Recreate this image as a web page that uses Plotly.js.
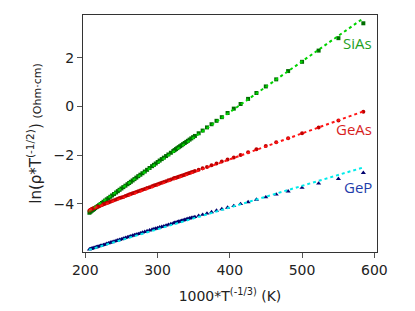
<!DOCTYPE html>
<html>
<head>
<meta charset="utf-8">
<script src="https://cdn.plot.ly/plotly-3.0.1.min.js"></script>
<style>html,body{margin:0;padding:0;background:#fff;}#chart{width:415px;height:311px;}</style>
</head>
<body>
<div id="chart"></div>
<script>
// x = 1000*T^(-1/3) sample positions (shared by all three data sets)
const xData = [205.7,207.2,208.8,210.4,212.0,213.7,215.4,217.2,219.1,221.1,223.1,225.2,227.4,229.7,232.1,234.6,237.1,239.8,242.6,245.0,247.4,250.0,252.6,255.5,258.4,260.7,263.0,265.5,268.0,270.6,273.3,276.2,279.1,282.3,285.5,288.9,292.4,295.0,297.5,300.2,302.9,305.8,308.7,311.8,315.0,318.4,321.8,323.6,325.5,327.4,329.3,331.3,333.3,335.4,337.6,339.8,342.0,344.3,346.7,349.2,351.7,356.9,362.4,368.4,374.7,381.6,388.9,396.9,405.5,414.9,425.3,436.8,449.8,464.2,480.7,500.0,522.9,550.3,584.8];

const siAsY = [-4.36,-4.32,-4.28,-4.245,-4.21,-4.17,-4.13,-4.09,-4.05,-4.005,-3.96,-3.91,-3.86,-3.81,-3.76,-3.705,-3.65,-3.59,-3.53,-3.475,-3.42,-3.365,-3.31,-3.25,-3.19,-3.14,-3.09,-3.035,-2.98,-2.92,-2.86,-2.80,-2.74,-2.67,-2.60,-2.525,-2.45,-2.395,-2.34,-2.28,-2.22,-2.16,-2.10,-2.035,-1.97,-1.90,-1.83,-1.79,-1.75,-1.71,-1.67,-1.63,-1.59,-1.545,-1.50,-1.455,-1.41,-1.36,-1.31,-1.26,-1.21,-1.10,-0.99,-0.86,-0.73,-0.59,-0.44,-0.27,-0.09,0.10,0.31,0.55,0.82,1.11,1.45,1.83,2.29,2.80,3.41];

const geAsY = [-4.27,-4.24,-4.21,-4.19,-4.17,-4.15,-4.13,-4.11,-4.09,-4.065,-4.04,-4.015,-3.99,-3.965,-3.94,-3.91,-3.88,-3.85,-3.82,-3.79,-3.76,-3.735,-3.71,-3.675,-3.64,-3.615,-3.59,-3.565,-3.54,-3.51,-3.48,-3.45,-3.42,-3.385,-3.35,-3.31,-3.27,-3.245,-3.22,-3.19,-3.16,-3.13,-3.10,-3.065,-3.03,-2.995,-2.96,-2.94,-2.92,-2.90,-2.88,-2.86,-2.84,-2.82,-2.80,-2.775,-2.75,-2.725,-2.70,-2.675,-2.65,-2.60,-2.54,-2.48,-2.41,-2.34,-2.26,-2.18,-2.09,-1.99,-1.88,-1.76,-1.62,-1.47,-1.30,-1.10,-0.86,-0.58,-0.22];

const gePY = [-5.86,-5.845,-5.83,-5.815,-5.80,-5.785,-5.77,-5.75,-5.73,-5.715,-5.70,-5.68,-5.66,-5.635,-5.61,-5.585,-5.56,-5.535,-5.51,-5.49,-5.47,-5.445,-5.42,-5.39,-5.36,-5.34,-5.32,-5.295,-5.27,-5.25,-5.23,-5.20,-5.17,-5.14,-5.11,-5.08,-5.05,-5.03,-5.01,-4.985,-4.96,-4.935,-4.91,-4.88,-4.85,-4.82,-4.79,-4.775,-4.76,-4.74,-4.72,-4.705,-4.69,-4.67,-4.65,-4.63,-4.61,-4.59,-4.57,-4.55,-4.53,-4.48,-4.44,-4.39,-4.33,-4.27,-4.21,-4.15,-4.08,-4.00,-3.92,-3.82,-3.72,-3.61,-3.48,-3.33,-3.16,-2.97,-2.72];

// linear fits (end points)
const fitX = [205, 585];
const siAsFit = [-4.30, 3.62];
const geAsFit = [-4.25, -0.20];
const gePFit = [-5.88, -2.50];

const labels = ["SiAs", "GeAs", "GeP"];
const labelY = [2.6, -0.92, -3.30];
const labelColors = ["rgb(30,160,30)", "rgb(215,30,30)", "rgb(30,60,170)"];

const traces = [
  {x: xData, y: siAsY, mode: "markers", marker: {symbol: "square", size: 4, color: "rgb(0,110,0)"}},
  {x: xData, y: geAsY, mode: "markers", marker: {symbol: "circle", size: 4, color: "rgb(190,0,0)"}},
  {x: xData, y: gePY, mode: "markers", marker: {symbol: "triangle-up", size: 4.5, color: "rgb(0,0,110)"}},
  {x: fitX, y: siAsFit, mode: "lines", line: {color: "rgb(0,210,0)", width: 2, dash: "dot"}},
  {x: fitX, y: geAsFit, mode: "lines", line: {color: "rgb(255,20,20)", width: 2, dash: "dot"}},
  {x: fitX, y: gePFit, mode: "lines", line: {color: "rgb(0,235,235)", width: 2, dash: "dot"}}
];

const annotations = labels.map((t, i) => ({
  x: 600, y: labelY[i], xref: "x", yref: "y", text: t, showarrow: false,
  xanchor: "right", yanchor: "middle",
  font: {family: "Open Sans, sans-serif", size: 15, color: labelColors[i]}
}));

const layout = {
  width: 415, height: 311,
  margin: {l: 83, r: 38, t: 15, b: 59},
  paper_bgcolor: "#fff", plot_bgcolor: "#fff",
  showlegend: false,
  font: {family: "DejaVu Sans, sans-serif", size: 14, color: "#222"},
  xaxis: {
    range: [196.8, 603.7], tickvals: [200, 300, 400, 500, 600],
    ticks: "outside", ticklen: 5, tickcolor: "#555", tickwidth: 1,
    showline: true, linecolor: "#333", linewidth: 1, mirror: true,
    showgrid: false, zeroline: false,
    tickfont: {size: 14},
    title: {text: "1000*T<sup>(-1/3)</sup> (K)", font: {size: 14}, standoff: 14}
  },
  yaxis: {
    range: [-5.97, 3.75], tickvals: [2, 0, -2, -4],
    ticks: "outside", ticklen: 5, tickcolor: "#555", tickwidth: 1,
    showline: true, linecolor: "#333", linewidth: 1, mirror: true,
    showgrid: false, zeroline: false,
    tickfont: {size: 14},
    title: {text: "ln(ρ*T<sup>(-1/2)</sup>) <span style=\"font-size:11px\">(Ohm·cm)</span>", font: {size: 15}, standoff: 8}
  },
  annotations: annotations
};

Plotly.newPlot("chart", traces, layout, {displayModeBar: false, staticPlot: true});
</script>
</body>
</html>
